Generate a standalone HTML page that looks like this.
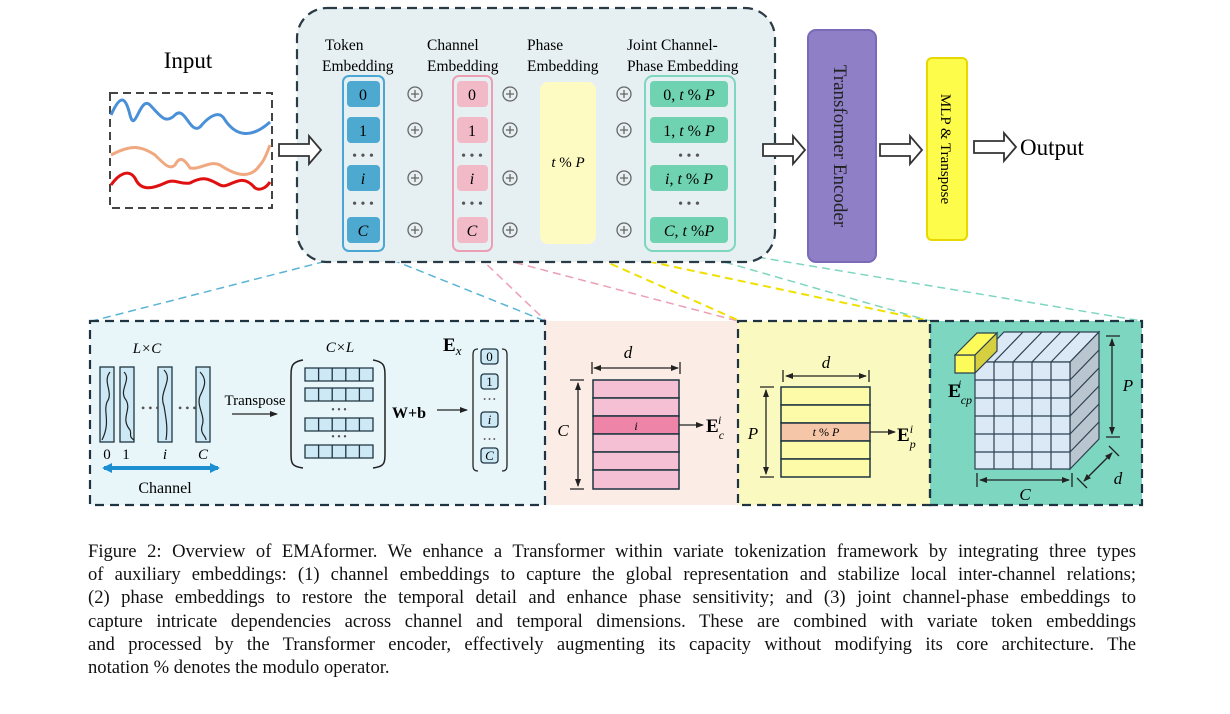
<!DOCTYPE html>
<html><head><meta charset="utf-8"><style>
body{margin:0;background:#fff;width:1230px;height:714px;overflow:hidden;position:relative;font-family:"Liberation Serif",serif}
svg{position:absolute;left:0;top:0}
.cap{position:absolute;left:88px;top:540px;width:1048px;font-size:18.6px;line-height:23.2px;color:#111}
.cap div{text-align:justify;text-align-last:justify;white-space:nowrap}
.cap div.l{text-align-last:left}
</style></head><body>
<svg width="1230" height="714" viewBox="0 0 1230 714" font-family="Liberation Serif, serif">
<defs>
<marker id="ah" markerWidth="8" markerHeight="8" refX="7" refY="4" orient="auto" markerUnits="userSpaceOnUse"><path d="M0,1 L8,4 L0,7z" fill="#222"/></marker>
<marker id="ahs" markerWidth="8" markerHeight="8" refX="1" refY="4" orient="auto" markerUnits="userSpaceOnUse"><path d="M8,1 L0,4 L8,7z" fill="#222"/></marker>
<marker id="bh" markerWidth="10" markerHeight="10" refX="8" refY="5" orient="auto" markerUnits="userSpaceOnUse"><path d="M0,0 L10,5 L0,10z" fill="#1b8fd0"/></marker>
<marker id="bhs" markerWidth="10" markerHeight="10" refX="2" refY="5" orient="auto" markerUnits="userSpaceOnUse"><path d="M10,0 L0,5 L10,10z" fill="#1b8fd0"/></marker>
</defs>
<g stroke-dasharray="8,5" stroke-width="1.5" fill="none">
<path d="M350,255 L92,321 M380,255 L545,321" stroke="#5ab4d6"/>
<path d="M478,256 L546,321 M490,256 L738,321" stroke="#ec9fb4"/>
<path d="M575,248 L740,321 M585,248 L930,321" stroke="#f0e000" stroke-width="2"/>
<path d="M700,255 L930,321 M745,255 L1142,321" stroke="#7dd6c0"/>
</g>
<text x="188" y="68" font-size="23" text-anchor="middle">Input</text>
<rect x="110" y="93" width="162" height="115" fill="#fff" stroke="#444" stroke-width="2" stroke-dasharray="8,5"/>
<path d="M111,115 C120,95 125,95 130,115 C135,135 140,95 150,105 C160,115 165,125 175,115 C185,105 190,135 200,127 C210,115 220,110 225,120 C235,135 250,140 270,122" stroke="#4a90d8" stroke-width="3" fill="none"/>
<path d="M111,155 C130,145 140,145 155,155 C165,165 170,170 175,165 C180,155 185,160 190,168 C200,170 210,160 220,165 C235,175 250,180 260,165 C265,160 268,150 270,145" stroke="#f0a880" stroke-width="3" fill="none"/>
<path d="M111,185 C118,175 128,168 135,178 C140,190 150,190 165,183 C175,178 180,185 190,183 C205,175 210,180 220,185 C230,190 240,170 255,188 C262,192 268,185 270,182" stroke="#e01010" stroke-width="3" fill="none"/>
<rect x="297" y="8" width="478" height="254" rx="30" fill="#e6f0f2" stroke="#2b3b46" stroke-width="2.2" stroke-dasharray="10,6"/>
<g fill="#fff" stroke="#333" stroke-width="1.8">
<path d="M279,144 h30 v-8 l12,14 l-12,14 v-8 h-30z"/>
<path d="M763,144 h30 v-8 l12,14 l-12,14 v-8 h-30z"/>
<path d="M880,144 h30 v-8 l12,14 l-12,14 v-8 h-30z"/>
<path d="M974,141 h30 v-8 l12,14 l-12,14 v-8 h-30z"/>
</g>
<g font-size="15.5" text-anchor="start">
<text x="325" y="50">Token</text><text x="322" y="71">Embedding</text>
<text x="427" y="50">Channel</text><text x="427" y="71">Embedding</text>
<text x="527" y="50">Phase</text><text x="527" y="71">Embedding</text>
<text x="627" y="50">Joint Channel-</text><text x="627" y="71">Phase Embedding</text>
</g>
<rect x="343" y="76" width="41" height="175" rx="6" fill="none" stroke="#4aa6d4" stroke-width="2"/>
<rect x="453" y="76" width="39" height="175" rx="6" fill="none" stroke="#ec9fb4" stroke-width="2"/>
<rect x="540" y="82" width="56" height="162" rx="8" fill="#fdfbc2"/>
<rect x="645" y="76" width="90" height="175" rx="8" fill="none" stroke="#7dd6c0" stroke-width="2"/>
<g font-size="16" text-anchor="middle">
<g fill="#4ea9d1"><rect x="347" y="81" width="33" height="26" rx="4"/><rect x="347" y="117" width="33" height="26" rx="4"/><rect x="347" y="165" width="33" height="26" rx="4"/><rect x="347" y="217" width="33" height="26" rx="4"/></g>
<g fill="#f1bac6"><rect x="457" y="81" width="31" height="26" rx="4"/><rect x="457" y="117" width="31" height="26" rx="4"/><rect x="457" y="165" width="31" height="26" rx="4"/><rect x="457" y="217" width="31" height="26" rx="4"/></g>
<g fill="#6fd3b2"><rect x="650" y="81" width="78" height="26" rx="4"/><rect x="650" y="117" width="78" height="26" rx="4"/><rect x="650" y="165" width="78" height="26" rx="4"/><rect x="650" y="217" width="78" height="26" rx="4"/></g>
<text x="363" y="100">0</text><text x="363" y="136">1</text><text x="363" y="184" font-style="italic">i</text><text x="363" y="236" font-style="italic">C</text>
<text x="472" y="100">0</text><text x="472" y="136">1</text><text x="472" y="184" font-style="italic">i</text><text x="472" y="236" font-style="italic">C</text>
<text x="689" y="100">0, <tspan font-style="italic">t</tspan> % <tspan font-style="italic">P</tspan></text>
<text x="689" y="136">1, <tspan font-style="italic">t</tspan> % <tspan font-style="italic">P</tspan></text>
<text x="689" y="184"><tspan font-style="italic">i</tspan>, <tspan font-style="italic">t</tspan> % <tspan font-style="italic">P</tspan></text>
<text x="689" y="236"><tspan font-style="italic">C</tspan>, <tspan font-style="italic">t</tspan> %<tspan font-style="italic">P</tspan></text>
<text x="568" y="167" font-size="15"><tspan font-style="italic">t</tspan> % <tspan font-style="italic">P</tspan></text>
<g font-size="14" fill="#555"><text x="363" y="160">• • •</text><text x="363" y="208">• • •</text><text x="472" y="160">• • •</text><text x="472" y="208">• • •</text><text x="689" y="160">• • •</text><text x="689" y="208">• • •</text></g>
</g>
<g fill="none" stroke="#666" stroke-width="1.3">
<g transform="translate(415,94)"><circle r="7"/><path d="M-4,0h8M0,-4v8"/></g>
<g transform="translate(415,130)"><circle r="7"/><path d="M-4,0h8M0,-4v8"/></g>
<g transform="translate(415,178)"><circle r="7"/><path d="M-4,0h8M0,-4v8"/></g>
<g transform="translate(415,230)"><circle r="7"/><path d="M-4,0h8M0,-4v8"/></g>
<g transform="translate(510,94)"><circle r="7"/><path d="M-4,0h8M0,-4v8"/></g>
<g transform="translate(510,130)"><circle r="7"/><path d="M-4,0h8M0,-4v8"/></g>
<g transform="translate(510,178)"><circle r="7"/><path d="M-4,0h8M0,-4v8"/></g>
<g transform="translate(510,230)"><circle r="7"/><path d="M-4,0h8M0,-4v8"/></g>
<g transform="translate(624,94)"><circle r="7"/><path d="M-4,0h8M0,-4v8"/></g>
<g transform="translate(624,130)"><circle r="7"/><path d="M-4,0h8M0,-4v8"/></g>
<g transform="translate(624,178)"><circle r="7"/><path d="M-4,0h8M0,-4v8"/></g>
<g transform="translate(624,230)"><circle r="7"/><path d="M-4,0h8M0,-4v8"/></g>
</g>
<rect x="808" y="30" width="68" height="232" rx="8" fill="#8e7fc7" stroke="#7a6ab8" stroke-width="2"/>
<text transform="translate(834,146) rotate(90)" font-size="19" text-anchor="middle" fill="#222">Transformer Encoder</text>
<rect x="927" y="58" width="40" height="182" rx="5" fill="#fefc4a" stroke="#e8d800" stroke-width="2"/>
<text transform="translate(941,149) rotate(90)" font-size="15" text-anchor="middle">MLP &amp; Transpose</text>
<text x="1020" y="155" font-size="23">Output</text>
<rect x="90" y="321" width="455" height="184" fill="#e8f6fa"/>
<rect x="545" y="321" width="193" height="184" fill="#fbece6"/>
<rect x="738" y="321" width="192" height="184" fill="#fafac0"/>
<rect x="930" y="321" width="212" height="184" fill="#7dd6c0"/>
<g fill="none" stroke="#1f3440" stroke-width="2.2" stroke-dasharray="9,6">
<rect x="90" y="321" width="455" height="184"/>
<rect x="738" y="321" width="192" height="184"/>
<rect x="930" y="321" width="212" height="184"/>
</g>
<text x="147" y="353" font-size="15" font-style="italic" text-anchor="middle">L×C</text>
<g fill="#cde9f5" stroke="#1f3440" stroke-width="1.3">
<rect x="100" y="367" width="14" height="75"/><rect x="120" y="367" width="14" height="75"/><rect x="158" y="367" width="14" height="75"/><rect x="196" y="367" width="14" height="75"/>
</g>
<g fill="none" stroke="#222" stroke-width="1.2">
<path d="M110,372 c-8,10 4,20 -3,30 c-4,10 4,20 -5,38"/><path d="M124,372 c8,8 -6,18 2,28 c6,10 -6,18 4,30 c2,4 -2,6 4,10"/><path d="M164,370 c10,10 -6,22 0,36 c2,12 4,22 2,34"/><path d="M200,372 c8,8 4,16 0,24 c-4,10 6,20 2,30 c-2,8 4,10 4,14"/>
</g>
<text x="141" y="412" font-size="12" fill="#555">• • •</text><text x="178" y="412" font-size="12" fill="#555">• • •</text>
<g font-size="15" text-anchor="middle"><text x="107" y="459">0</text><text x="126" y="459">1</text><text x="165" y="459" font-style="italic">i</text><text x="203" y="459" font-style="italic">C</text></g>
<line x1="104" y1="468" x2="218" y2="468" stroke="#1b8fd0" stroke-width="4" marker-end="url(#bh)" marker-start="url(#bhs)"/>
<text x="165" y="493" font-size="16" text-anchor="middle">Channel</text>
<text x="255" y="405" font-size="15" text-anchor="middle">Transpose</text>
<line x1="232" y1="414" x2="277" y2="414" stroke="#222" stroke-width="1.3" marker-end="url(#ah)"/>
<text x="340" y="352" font-size="15" font-style="italic" text-anchor="middle">C×L</text>
<path d="M303,360 c-12,2 -12,6 -12,20 v70 c0,14 0,16 12,18" fill="none" stroke="#222" stroke-width="1.5"/>
<path d="M373,360 c12,2 12,6 12,20 v70 c0,14 0,16 -12,18" fill="none" stroke="#222" stroke-width="1.5"/>
<g fill="#cde9f5" stroke="#1f3440" stroke-width="1.3">
<path d="M305,368 h68 v13 h-68z M305,388 h68 v13 h-68z M305,418 h68 v13 h-68z M305,445 h68 v13 h-68z"/>
<path d="M318.6,368v13M332.2,368v13M345.8,368v13M359.4,368v13 M318.6,388v13M332.2,388v13M345.8,388v13M359.4,388v13 M318.6,418v13M332.2,418v13M345.8,418v13M359.4,418v13 M318.6,445v13M332.2,445v13M345.8,445v13M359.4,445v13"/>
</g>
<text x="339" y="413" font-size="10" fill="#555" text-anchor="middle">• • •</text><text x="339" y="440" font-size="10" fill="#555" text-anchor="middle">• • •</text>
<text x="409" y="418" font-size="16" font-weight="bold" text-anchor="middle">W+b</text>
<line x1="437" y1="410" x2="467" y2="410" stroke="#222" stroke-width="1.3" marker-end="url(#ah)"/>
<text x="443" y="351" font-size="19" font-weight="bold">E<tspan font-size="13" font-style="italic" font-weight="normal" dy="4">x</tspan></text>
<path d="M478,349 c-4,0 -5,2 -5,6 v110 c0,4 1,6 5,6 M502,349 c4,0 5,2 5,6 v110 c0,4 -1,6 -5,6" fill="none" stroke="#222" stroke-width="1.3"/>
<g fill="#cde9f5" stroke="#1f3440" stroke-width="1.3"><rect x="481" y="349" width="17" height="15" rx="3"/><rect x="481" y="374" width="17" height="15" rx="3"/><rect x="481" y="412" width="17" height="15" rx="3"/><rect x="481" y="448" width="17" height="15" rx="3"/></g>
<g font-size="13" text-anchor="middle"><text x="489.5" y="361">0</text><text x="489.5" y="386">1</text><text x="489.5" y="424" font-style="italic">i</text><text x="489.5" y="460" font-style="italic">C</text></g>
<text x="489.5" y="402" font-size="8" fill="#666" text-anchor="middle">• • •</text><text x="489.5" y="442" font-size="8" fill="#666" text-anchor="middle">• • •</text>
<text x="628" y="358" font-size="17" font-style="italic" text-anchor="middle">d</text>
<line x1="594" y1="368" x2="678" y2="368" stroke="#222" stroke-width="1.3" marker-end="url(#ah)" marker-start="url(#ahs)"/>
<path d="M592,362v12M680,362v12" stroke="#222" stroke-width="1.3"/>
<g fill="#f5c0d3" stroke="#1f3440" stroke-width="1.5"><rect x="593" y="380" width="86" height="18"/><rect x="593" y="398" width="86" height="18"/><rect x="593" y="416" width="86" height="18" fill="#ee84a8"/><rect x="593" y="434" width="86" height="18"/><rect x="593" y="452" width="86" height="18"/><rect x="593" y="470" width="86" height="19"/></g>
<text x="636" y="430" font-size="12" font-style="italic" text-anchor="middle">i</text>
<path d="M570,380h14M570,489h14" stroke="#222" stroke-width="1.3"/>
<line x1="578" y1="383" x2="578" y2="486" stroke="#222" stroke-width="1.3" marker-end="url(#ah)" marker-start="url(#ahs)"/>
<text x="563" y="436" font-size="17" font-style="italic" text-anchor="middle">C</text>
<line x1="679" y1="425" x2="703" y2="425" stroke="#222" stroke-width="1.3" marker-end="url(#ah)"/>
<text x="706" y="432" font-size="19" font-weight="bold">E<tspan font-size="12" font-style="italic" font-weight="normal" dy="7">c</tspan><tspan font-size="12" font-style="italic" font-weight="normal" dx="-6" dy="-15">i</tspan></text>
<text x="826" y="368" font-size="17" font-style="italic" text-anchor="middle">d</text>
<line x1="786" y1="376" x2="866" y2="376" stroke="#222" stroke-width="1.3" marker-end="url(#ah)" marker-start="url(#ahs)"/>
<path d="M783,370v12M869,370v12" stroke="#222" stroke-width="1.3"/>
<g fill="#fdfba8" stroke="#1f3440" stroke-width="1.5"><rect x="781" y="387" width="89" height="18"/><rect x="781" y="405" width="89" height="18"/><rect x="781" y="423" width="89" height="18" fill="#f5c6a8"/><rect x="781" y="441" width="89" height="18"/><rect x="781" y="459" width="89" height="18"/></g>
<text x="826" y="436" font-size="12" text-anchor="middle"><tspan font-style="italic">t</tspan> % <tspan font-style="italic">P</tspan></text>
<path d="M760,387h14M760,477h14" stroke="#222" stroke-width="1.3"/>
<line x1="766" y1="390" x2="766" y2="474" stroke="#222" stroke-width="1.3" marker-end="url(#ah)" marker-start="url(#ahs)"/>
<text x="753" y="439" font-size="17" font-style="italic" text-anchor="middle">P</text>
<line x1="870" y1="432" x2="895" y2="432" stroke="#222" stroke-width="1.3" marker-end="url(#ah)"/>
<text x="897" y="441" font-size="19" font-weight="bold">E<tspan font-size="12" font-style="italic" font-weight="normal" dy="7">p</tspan><tspan font-size="12" font-style="italic" font-weight="normal" dx="-6" dy="-15">i</tspan></text>
<g stroke="#2b4050" stroke-width="1.2">
<path d="M975,362 L1004,332 L1099,332 L1070,362z" fill="#dbe8f5"/>
<path d="M1070,362 L1099,332 L1099,439 L1070,469z" fill="#b9c5cf"/>
<rect x="975" y="362" width="95" height="107" fill="#dbe8f5"/>
<path d="M994,362v107M1013,362v107M1032,362v107M1051,362v107 M975,380h95M975,398h95M975,416h95M975,434h95M975,452h95" fill="none"/>
<path d="M994,362l29,-30M1013,362l29,-30M1032,362l29,-30M1051,362l29,-30" fill="none"/>
<path d="M1070,380l29,-30M1070,398l29,-30M1070,416l29,-30M1070,434l29,-30M1070,452l29,-30" fill="none"/>
<path d="M955,355 L975,355 L975,373 L955,373z" fill="#fdfb5a"/>
<path d="M955,355 L977,333 L997,333 L975,355z" fill="#fdfb5a"/>
<path d="M975,355 L997,333 L997,351 L975,373z" fill="#d6d040"/>
</g>
<text x="948" y="397" font-size="19" font-weight="bold">E<tspan font-size="12" font-style="italic" font-weight="normal" dy="7">cp</tspan><tspan font-size="12" font-style="italic" font-weight="normal" dx="-14" dy="-16">i</tspan></text>
<path d="M1106,336h14M1106,437h14" stroke="#222" stroke-width="1.3"/>
<line x1="1112" y1="339" x2="1112" y2="434" stroke="#222" stroke-width="1.3" marker-end="url(#ah)" marker-start="url(#ahs)"/>
<text x="1128" y="391" font-size="17" font-style="italic" text-anchor="middle">P</text>
<path d="M977,473v14M1072,473v14" stroke="#222" stroke-width="1.3"/>
<line x1="980" y1="480" x2="1069" y2="480" stroke="#222" stroke-width="1.3" marker-end="url(#ah)" marker-start="url(#ahs)"/>
<text x="1025" y="500" font-size="17" font-style="italic" text-anchor="middle">C</text>
<path d="M1109,446l10,10M1077,478l10,10" stroke="#222" stroke-width="1.3"/>
<line x1="1112" y1="453" x2="1084" y2="481" stroke="#222" stroke-width="1.3" marker-end="url(#ah)" marker-start="url(#ahs)"/>
<text x="1118" y="484" font-size="17" font-style="italic" text-anchor="middle">d</text>
</svg>
<div class="cap">
<div>Figure 2: Overview of EMAformer. We enhance a Transformer within variate tokenization framework by integrating three types</div>
<div>of auxiliary embeddings: (1) channel embeddings to capture the global representation and stabilize local inter-channel relations;</div>
<div>(2) phase embeddings to restore the temporal detail and enhance phase sensitivity; and (3) joint channel-phase embeddings to</div>
<div>capture intricate dependencies across channel and temporal dimensions. These are combined with variate token embeddings</div>
<div>and processed by the Transformer encoder, effectively augmenting its capacity without modifying its core architecture. The</div>
<div class="l">notation % denotes the modulo operator.</div>
</div>
</body></html>
